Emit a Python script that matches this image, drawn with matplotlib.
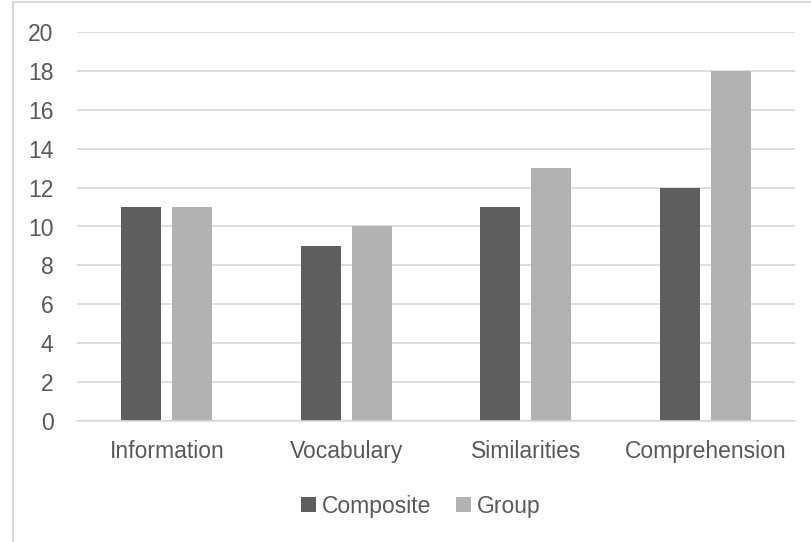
import numpy as np
import matplotlib.pyplot as plt
import matplotlib.patches as mpatches

categories = ['Information', 'Vocabulary', 'Similarities', 'Comprehension']
composite = [11, 9, 11, 12]
group = [11, 10, 13, 18]

darkColor = '#5f5f5f'
lightColor = '#b2b2b2'
textColor = '#595959'
gridColor = '#d9d9d9'

plt.rcParams['font.family'] = ['Liberation Sans', 'DejaVu Sans']

figW, figH = 811, 542
fig = plt.figure(figsize=(figW / 100, figH / 100), dpi=100)
ax = fig.add_axes([77 / figW, 1 - 421 / figH, 718 / figW, 389 / figH])

# Chart area frame (only left and top edges fall inside the image)
frame = mpatches.Rectangle((12.5 / figW, -0.1), 1.2, 1.0963, transform=fig.transFigure,
                           fill=False, edgecolor=gridColor, linewidth=1.5, zorder=0)
fig.patches.append(frame)

x = np.arange(len(categories))
barWidth = 0.223
gap = 0.06
ax.bar(x - (barWidth + gap) / 2, composite, barWidth, color=darkColor, label='Composite', zorder=2)
ax.bar(x + (barWidth + gap) / 2, group, barWidth, color=lightColor, label='Group', zorder=2)

ax.set_xlim(-0.5, len(categories) - 0.5)
ax.set_ylim(0, 20)
ax.set_yticks(range(0, 21, 2))
ax.set_xticks(x)
ax.set_xticklabels(categories)
ax.yaxis.grid(True, color=gridColor, linewidth=1.2, zorder=0)
ax.set_axisbelow(True)

for side in ['top', 'right', 'left']:
    ax.spines[side].set_visible(False)
ax.spines['bottom'].set_color(gridColor)
ax.spines['bottom'].set_linewidth(1.2)

ax.tick_params(axis='both', length=0, labelsize=16.5, colors=textColor)
ax.tick_params(axis='x', pad=14)
ax.tick_params(axis='y', pad=17)

fig.legend(loc='center', bbox_to_anchor=(421 / figW, 1 - 506 / figH), ncol=2, frameon=False,
           fontsize=16.5, labelcolor=textColor, handlelength=0.65, handleheight=0.65,
           handletextpad=0.25, columnspacing=1.1)

plt.savefig('out.png', dpi=100)
